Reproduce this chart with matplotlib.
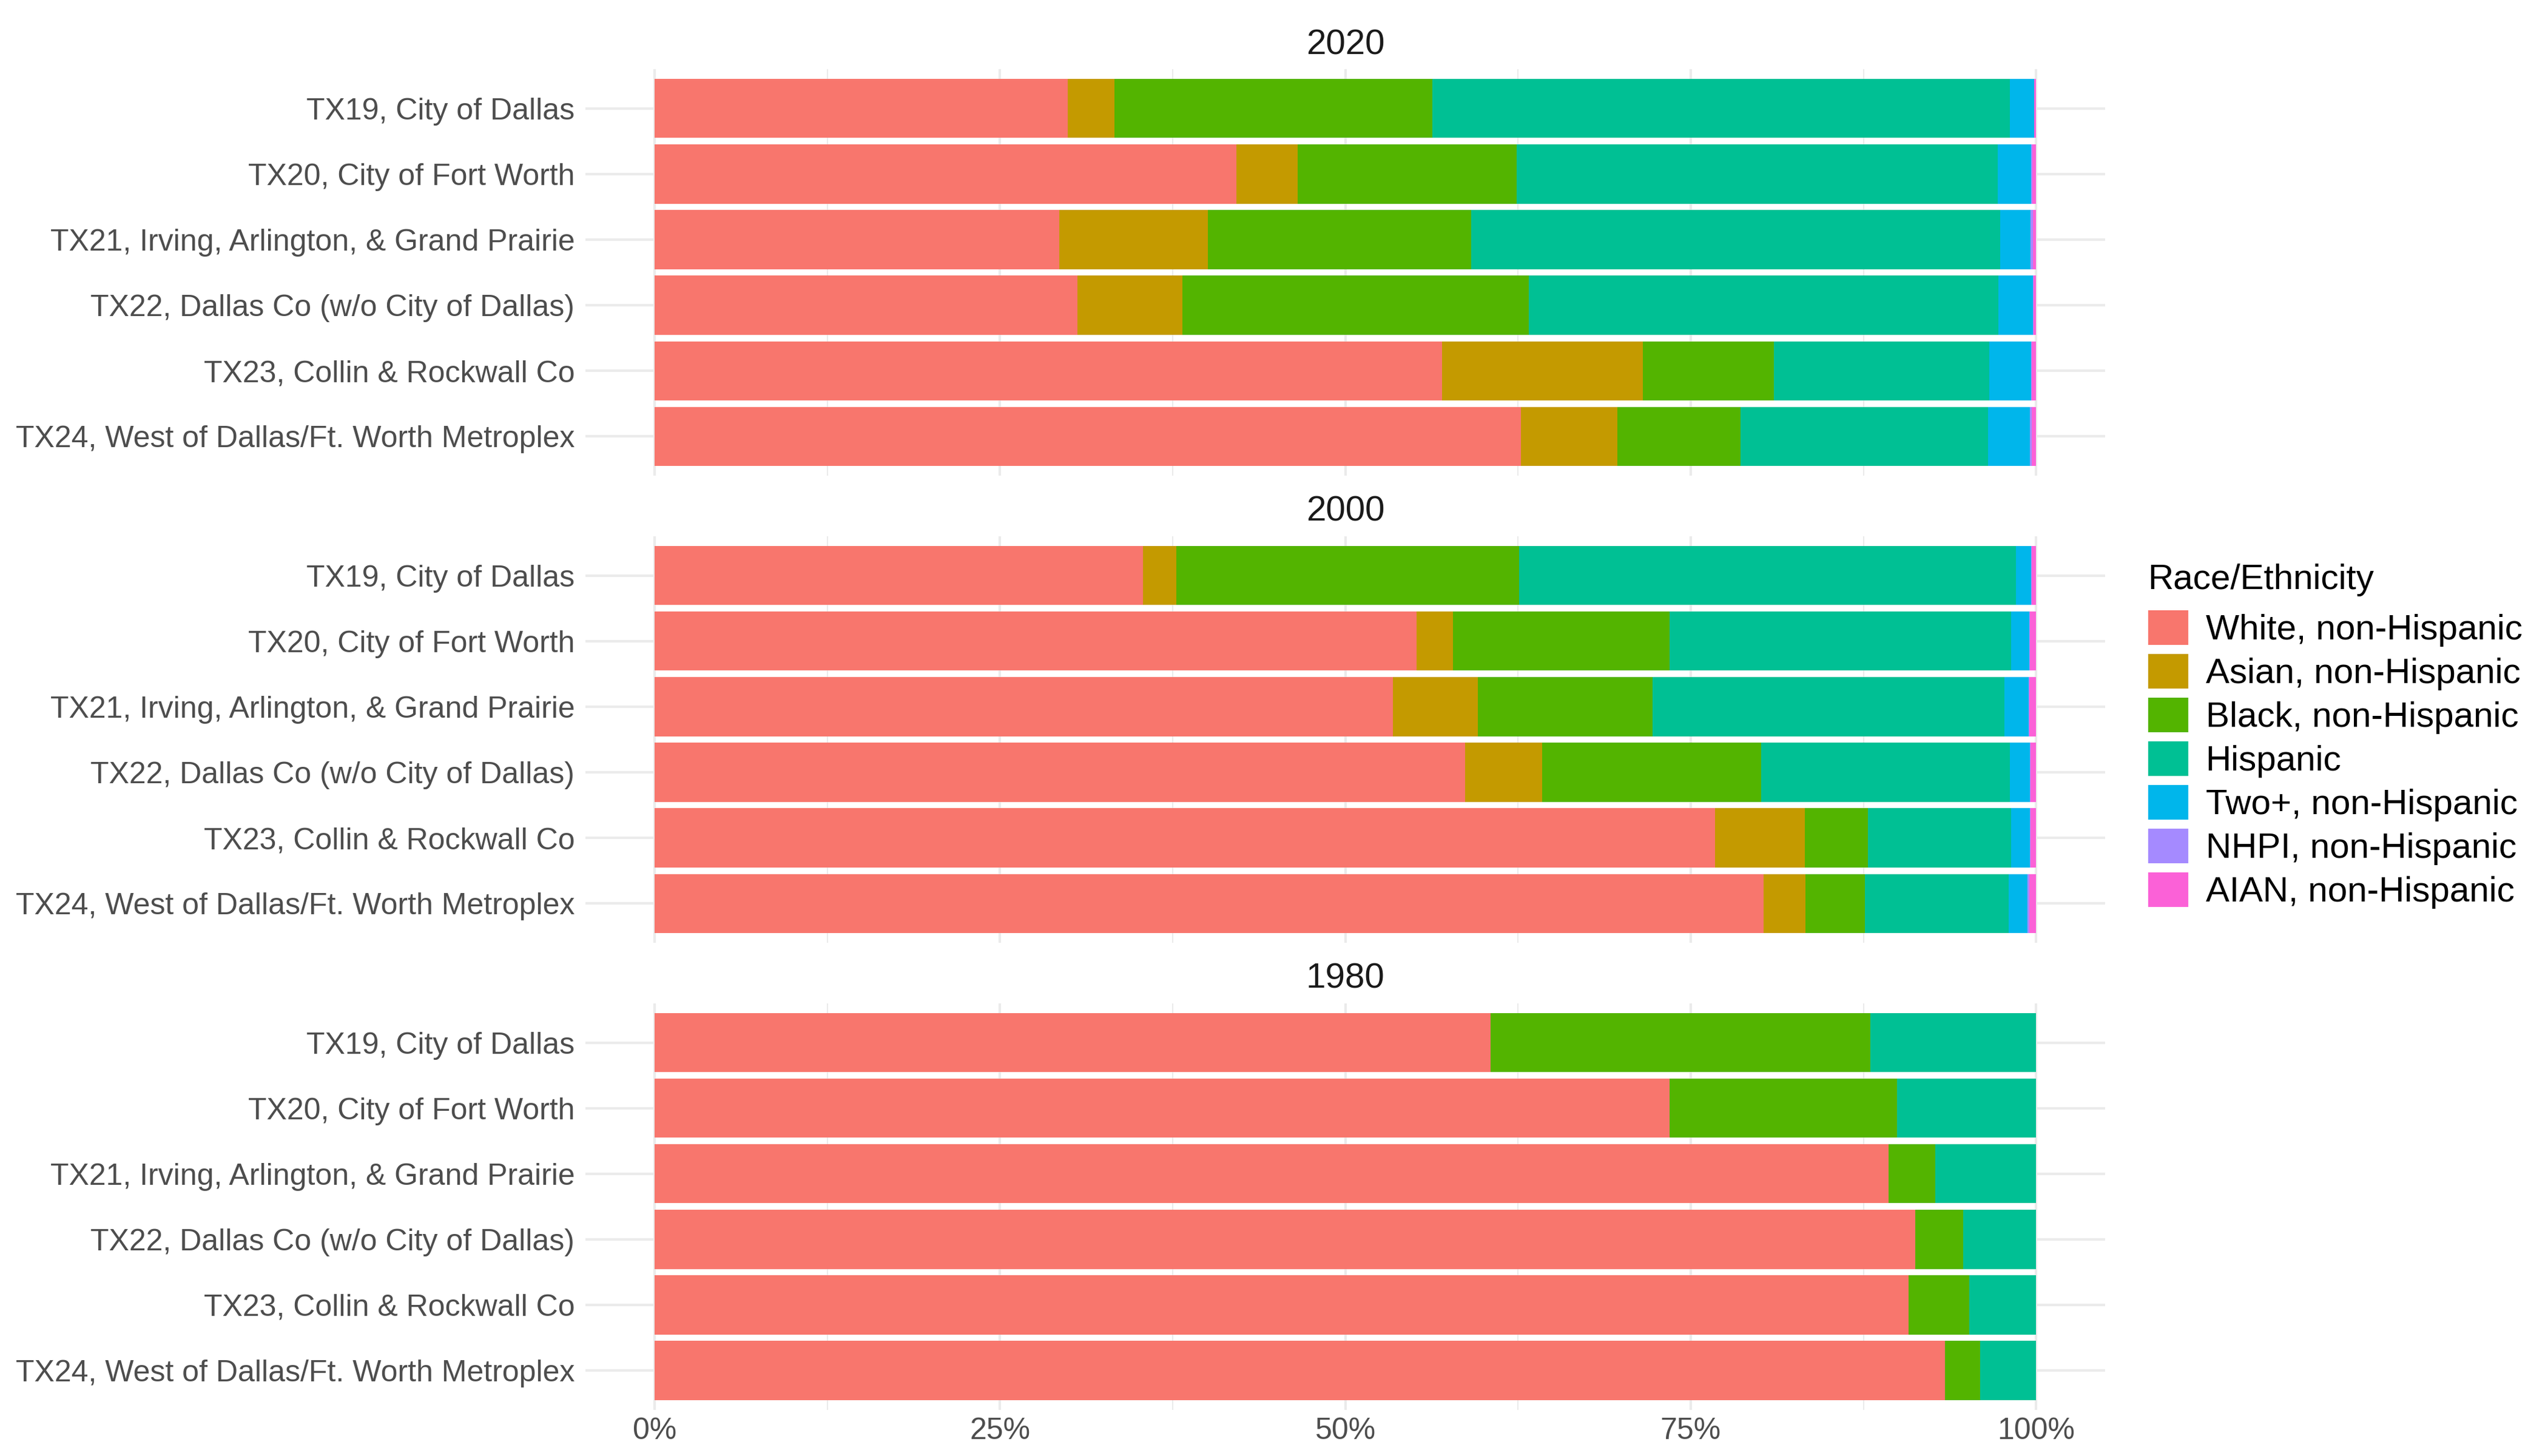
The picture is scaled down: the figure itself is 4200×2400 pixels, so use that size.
import matplotlib
matplotlib.use("Agg")
import numpy as np
import matplotlib.pyplot as plt
from matplotlib.patches import Patch

plt.rcParams['font.family'] = ['Liberation Sans', 'DejaVu Sans']

districts = ["TX19, City of Dallas",
             "TX20, City of Fort Worth",
             "TX21, Irving, Arlington, & Grand Prairie",
             "TX22, Dallas Co (w/o City of Dallas)",
             "TX23, Collin & Rockwall Co",
             "TX24, West of Dallas/Ft. Worth Metroplex"]
groups = ["White, non-Hispanic", "Asian, non-Hispanic", "Black, non-Hispanic",
          "Hispanic", "Two+, non-Hispanic", "NHPI, non-Hispanic", "AIAN, non-Hispanic"]
colors = ["#F8766D", "#C49A00", "#53B400", "#00C094", "#00B6EB", "#A58AFF", "#FB61D7"]
years = ["2020", "2000", "1980"]

# percent share, one row per group (same order as groups), one value per district
share_2020 = [
    [29.9, 42.1, 29.3, 30.6, 57.0, 62.7],
    [3.4, 4.45, 10.75, 7.6, 14.55, 7.0],
    [23.0, 15.85, 19.05, 25.06, 9.45, 8.92],
    [41.8, 34.83, 38.31, 34.03, 15.59, 17.9],
    [1.74, 2.42, 2.19, 2.49, 3.07, 3.03],
    [0.02, 0.07, 0.16, 0.02, 0.04, 0.13],
    [0.14, 0.28, 0.24, 0.2, 0.3, 0.31],
]
share_2000 = [
    [35.35, 55.15, 53.45, 58.65, 76.75, 80.29],
    [2.42, 2.65, 6.14, 5.6, 6.49, 3.0],
    [24.82, 15.68, 12.63, 15.85, 4.57, 4.34],
    [35.96, 24.72, 25.5, 18.01, 10.36, 10.39],
    [1.1, 1.32, 1.75, 1.45, 1.39, 1.36],
    [0.03, 0.04, 0.05, 0.03, 0.03, 0.13],
    [0.32, 0.44, 0.48, 0.41, 0.41, 0.49],
]
share_1980 = [
    [60.5, 73.46, 89.3, 91.24, 90.76, 93.42],
    [0, 0, 0, 0, 0, 0],
    [27.52, 16.46, 3.39, 3.47, 4.4, 2.52],
    [11.98, 10.08, 7.31, 5.29, 4.84, 4.06],
    [0, 0, 0, 0, 0, 0],
    [0, 0, 0, 0, 0, 0],
    [0, 0, 0, 0, 0, 0],
]
shares = [share_2020, share_2000, share_1980]

fig = plt.figure(figsize=(14, 8), dpi=300)
panel_bottoms = [0.6733, 0.3525, 0.0317]
panel_h = 0.2792
left, width = 0.2298, 0.5964

ypos = np.arange(len(districts))[::-1]
for i, (yr, data) in enumerate(zip(years, shares)):
    ax = fig.add_axes([left, panel_bottoms[i], width, panel_h])
    base = np.zeros(len(districts))
    for g, col, vals in zip(groups, colors, data):
        vals = np.array(vals, dtype=float)
        ax.barh(ypos, vals, left=base, height=0.9, color=col, linewidth=0)
        base += vals
    ax.set_xlim(-5, 105)
    ax.set_ylim(-0.6, len(districts) - 0.4)
    ax.set_yticks(ypos)
    ax.set_yticklabels(districts)
    ax.set_xticks([0, 25, 50, 75, 100])
    ax.set_xticks([12.5, 37.5, 62.5, 87.5], minor=True)
    ax.set_xticklabels(["0%", "25%", "50%", "75%", "100%"])
    ax.tick_params(axis='both', which='both', length=0, labelsize=12, labelcolor='#4D4D4D')
    ax.tick_params(axis='y', pad=4.3)
    ax.tick_params(axis='x', pad=3.0)
    if i < 2:
        ax.tick_params(axis='x', labelbottom=False)
    ax.grid(which='major', color='#EBEBEB', linewidth=1.0)
    ax.grid(which='minor', axis='x', color='#EBEBEB', linewidth=0.5)
    ax.set_axisbelow(True)
    for s in ax.spines.values():
        s.set_visible(False)
    ax.set_title(yr, fontsize=14, color='#1A1A1A', pad=6)

handles = [Patch(facecolor=c, edgecolor='none') for c in colors]
leg = fig.legend(handles, groups, loc='upper left', bbox_to_anchor=(0.843, 0.6128),
                 frameon=False, fontsize=14, title="Race/Ethnicity", title_fontsize=14,
                 handlelength=1.13, handleheight=1.13, handletextpad=0.5,
                 labelspacing=0.2, borderpad=0, borderaxespad=0)
leg._legend_box.align = 'left'
leg._legend_box.sep = 5.4  # a bit more room under the legend title

fig.savefig("out.png", dpi=300)
